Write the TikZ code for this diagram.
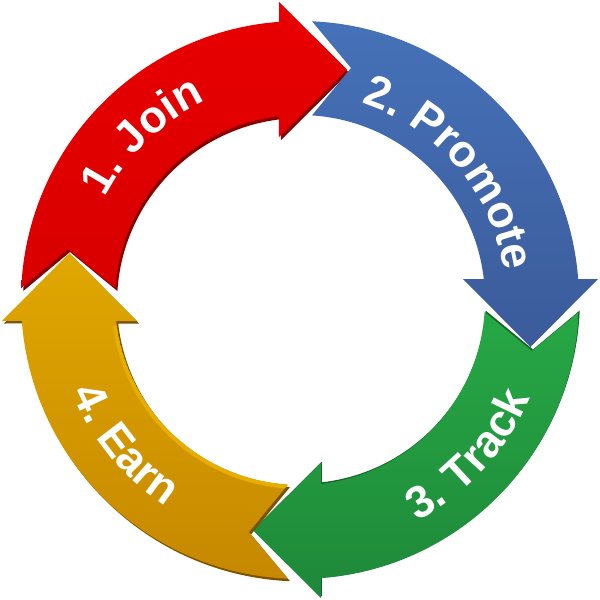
\documentclass[tikz,border=0pt]{standalone}
\usepackage{fontspec}
\newfontfamily\lbs{Liberation Sans}
\usetikzlibrary{decorations.text}
\definecolor{redA}{HTML}{E80000}
\definecolor{redB}{HTML}{D80000}
\definecolor{redD}{HTML}{8A0000}
\definecolor{bluA}{HTML}{4673BA}
\definecolor{bluB}{HTML}{3B5A99}
\definecolor{grnA}{HTML}{27A946}
\definecolor{grnB}{HTML}{1E8839}
\definecolor{grnD}{HTML}{136428}
\definecolor{ylwA}{HTML}{E1A900}
\definecolor{ylwB}{HTML}{C48600}
\definecolor{ylwD}{HTML}{7A5300}
\definecolor{ylwL}{HTML}{E6AE00}
% one cycle arrow in the frame of the red arrow
\newcommand{\cyclearrow}[1]{\path[#1] (-278.7,12) arc[start angle=177.53, end angle=94.32, radius=279pt]
  -- (-21,298) -- (47,230.5) -- (-21,163) -- (-21,183.8)
  arc[start angle=96.52, end angle=176.28, radius=185pt] -- (-232,51) -- cycle;}
\tikzset{
  lbl/.style={decorate, decoration={text along path, text align=center, text color=white,
    text={|\lbs\bfseries\fontsize{45}{54}\selectfont|#1}}}
}
\begin{document}
\begin{tikzpicture}[x=1pt,y=1pt]
\useasboundingbox (-300,-300) rectangle (300,300);
\fill[white] (-300,-300) rectangle (300,300);
% red: 1. Join
\cyclearrow{fill=redD, shift={(2,-3)}}
\begin{scope}
  \cyclearrow{clip}
  \shade[top color=redA, bottom color=redB] (-300,0) rectangle (60,300);
\end{scope}
% blue: 2. Promote
\begin{scope}
  \cyclearrow{clip, rotate=-90}
  \shade[top color=bluA, bottom color=bluB] (-10,-60) rectangle (300,300);
\end{scope}
% green: 3. Track
\cyclearrow{fill=grnD, shift={(1,1.5)}, rotate=180}
\begin{scope}
  \cyclearrow{clip, rotate=180}
  \shade[top color=grnA, bottom color=grnB] (-60,-300) rectangle (300,0);
\end{scope}
% yellow: 4. Earn
\cyclearrow{fill=ylwD, shift={(2,-2.5)}, rotate=90}
\begin{scope}
  \cyclearrow{clip, rotate=90}
  \shade[top color=ylwA, bottom color=ylwB] (-300,-300) rectangle (0,60);
  \draw[ylwL, line width=4pt] (188:187) arc[start angle=188, end angle=266, radius=187pt];
\end{scope}
% labels
\path[lbl={1. Join}] (183.85:220) arc[start angle=183.85, end angle=83.85, radius=220pt];
\path[lbl={2. Promote}] (100.3:206) arc[start angle=100.3, end angle=-19.7, radius=206pt];
\path[lbl={3. Track}] (-92.55:250) arc[start angle=-92.55, end angle=7.45, radius=250pt];
\path[lbl={4. Earn}] (169.6:246) arc[start angle=169.6, end angle=269.6, radius=246pt];
\end{tikzpicture}
\end{document}
